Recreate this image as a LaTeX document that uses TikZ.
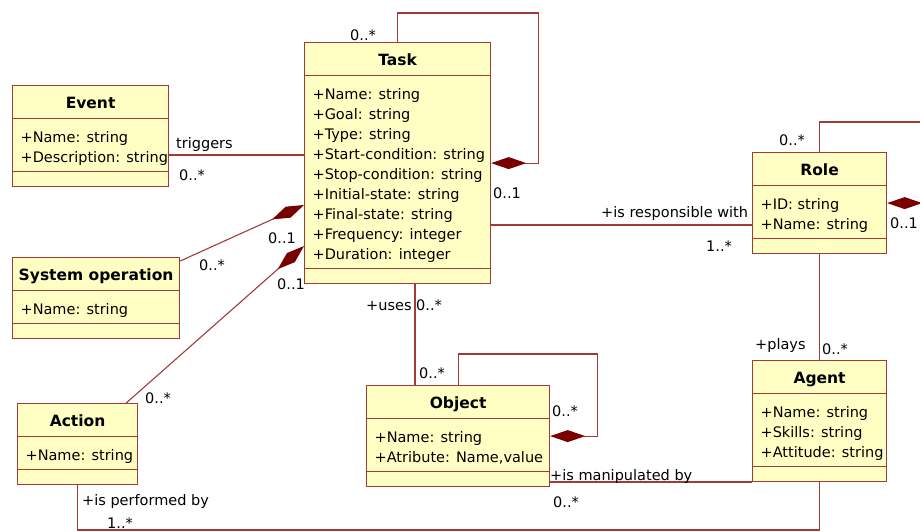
\documentclass[tikz,border=0pt]{standalone}
\usepackage{fontspec}
\setmainfont{DejaVu Sans}
\usepackage{tikz}
\usetikzlibrary{arrows.meta,positioning,shapes.multipart,calc}

\definecolor{umlline}{HTML}{A33A3A}
\definecolor{umlfill}{HTML}{FFFFC4}
\definecolor{umldia}{HTML}{7A0000}

% compartments of a class box: width, (height,) contents
\newcommand{\clshead}[2]{\parbox[c][31.8pt][t]{#1pt}{\centering\rule{0pt}{22pt}{\fontsize{15.5}{20}\selectfont\bfseries #2}}}
\newcommand{\clsattr}[3]{\parbox[c][#2pt][t]{#1pt}{\raggedright\leftskip=8pt\rule{0pt}{23pt}#3}}
\newcommand{\clsops}[1]{\parbox[c][13.8pt][t]{#1pt}{}}

\begin{document}
\begin{tikzpicture}[
  x=1pt, y=-1pt,
  cls/.style={rectangle split, rectangle split parts=3, draw=umlline, fill=umlfill,
              line width=1.2pt, inner xsep=0pt, inner ysep=0pt, anchor=north west,
              font=\fontsize{14.5}{20}\selectfont},
  assoc/.style={draw=umlline, line width=1.1pt},
  comp/.style={assoc, {Diamond[length=35pt,width=12pt,color=umldia,fill=umldia]}-},
  lbl/.style={inner sep=0pt, anchor=base west, font=\fontsize{14.5}{20}\selectfont}
]
  \useasboundingbox (0,0) rectangle (920,532);

  % classes
  \node[cls] (task) at (304,42) {\clshead{186}{Task}\nodepart{two}\clsattr{186}{191.8}{%
    +Name: string\\+Goal: string\\+Type: string\\+Start-condition: string\\
    +Stop-condition: string\\+Initial-state: string\\+Final-state: string\\
    +Frequency: integer\\+Duration: integer}\nodepart{three}\clsops{186}};
  \node[cls] (event) at (12,85) {\clshead{156}{Event}\nodepart{two}\clsattr{156}{51.8}{%
    +Name: string\\+Description: string}\nodepart{three}\clsops{156}};
  \node[cls] (sysop) at (12,257) {\clshead{167}{System operation}\nodepart{two}\clsattr{167}{31.8}{%
    +Name: string}\nodepart{three}\clsops{167}};
  \node[cls] (action) at (17,403) {\clshead{120}{Action}\nodepart{two}\clsattr{120}{31.8}{%
    +Name: string}\nodepart{three}\clsops{120}};
  \node[cls] (object) at (366,385) {\clshead{183}{Object}\nodepart{two}\clsattr{183}{51.8}{%
    +Name: string\\+Atribute: Name,value}\nodepart{three}\clsops{183}};
  \node[cls] (role) at (752,152) {\clshead{134}{Role}\nodepart{two}\clsattr{134}{51.8}{%
    +ID: string\\+Name: string}\nodepart{three}\clsops{134}};
  \node[cls] (agent) at (752,360) {\clshead{134}{Agent}\nodepart{two}\clsattr{134}{71.8}{%
    +Name: string\\+Skills: string\\+Attitude: string}\nodepart{three}\clsops{134}};

  % associations
  \draw[comp] (task.east) -- ++(47,0) |- ([yshift=29pt]task.north) -- (task.north);
  \draw[assoc] (task.east |- 0,225) -- (role.west |- 0,225);
  \draw[assoc] (event.east |- 0,155) -- (task.west |- 0,155);
  \draw[comp] (task.west |- 0,205) -- ([yshift=-4pt]sysop.north east);
  \draw[comp] (task.west |- 0,246) -- ([xshift=-12pt]action.north east);
  \draw[assoc] (415,0 |- task.south) -- (415,0 |- object.north);
  \draw[comp] (object.east) -- ++(47,0) |- ([yshift=31pt]object.north) -- (object.north);
  \draw[assoc] (object.east |- 0,482) -- (agent.west |- 0,482);
  \draw[assoc] (action.south) -- (action.south |- 0,530) -| (agent.south);
  \draw[comp] (role.east) -- ++(50,0) |- ([yshift=30pt]role.north) -- (role.north);
  \draw[assoc] (role.south) -- (agent.north);

  % roles and multiplicities
  \node[lbl] (mTaskLoop) at (350,41) {0..*};
  \node[lbl] (mTaskWhole) at (493,198) {0..1};
  \node[lbl] (rResp) at (601,217) {+is responsible with};
  \node[lbl] (mResp) at (706,251) {1..*};
  \node[lbl] (rTrig) at (176,148) {triggers};
  \node[lbl] (mTrig) at (179,180) {0..*};
  \node[lbl] (mSysWhole) at (268,243) {0..1};
  \node[lbl] (mSysPart) at (199,270) {0..*};
  \node[lbl] (mActWhole) at (277,289) {0..1};
  \node[lbl] (mActPart) at (145,403) {0..*};
  \node[lbl] (rPerf) at (82,505) {+is performed by};
  \node[lbl] (mPerf) at (107,528) {1..*};
  \node[lbl] (rUses) at (366,310) {+uses};
  \node[lbl] (mUsesTop) at (416,310) {0..*};
  \node[lbl] (mUsesObj) at (419,378) {0..*};
  \node[lbl] (mObjLoop) at (552,416) {0..*};
  \node[lbl] (rManip) at (550,480) {+is manipulated by};
  \node[lbl] (mManip) at (553,507) {0..*};
  \node[lbl] (mRoleLoop) at (779,145) {0..*};
  \node[lbl] (mRoleWhole) at (890,228) {0..1};
  \node[lbl] (rPlays) at (755,349) {+plays};
  \node[lbl] (mPlays) at (822,354) {0..*};
\end{tikzpicture}
\end{document}
